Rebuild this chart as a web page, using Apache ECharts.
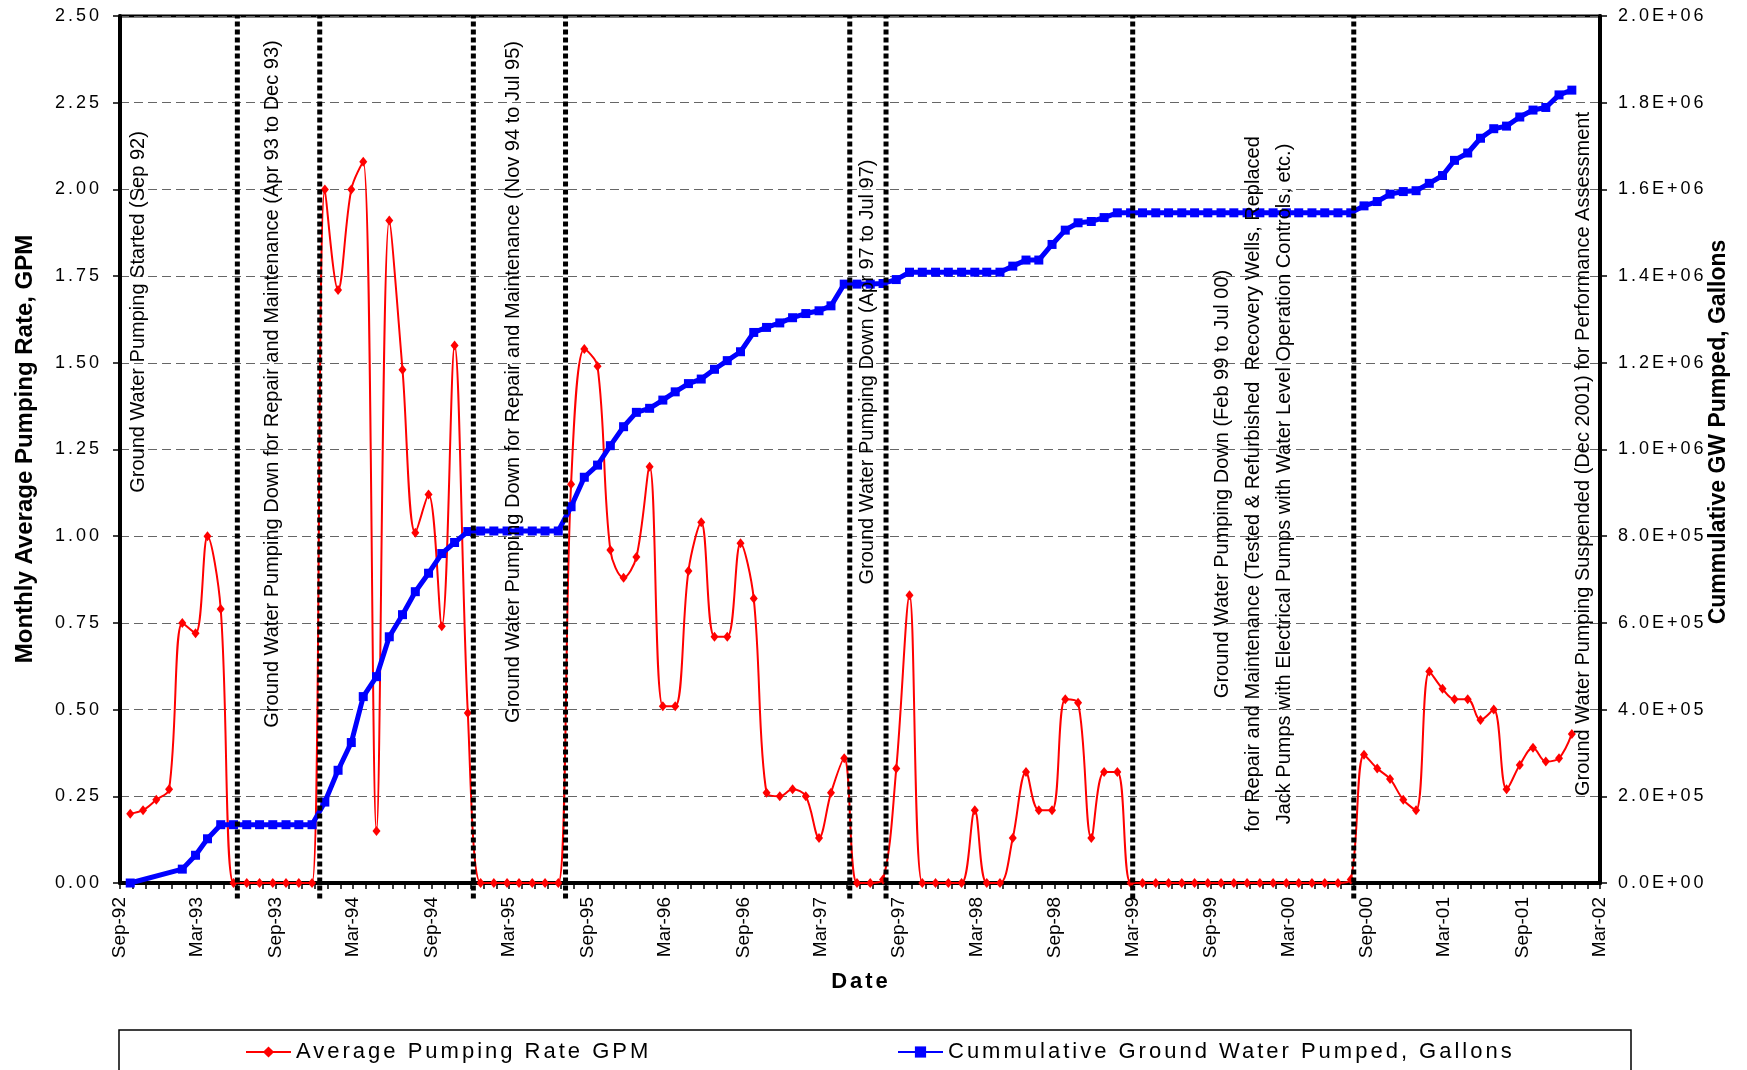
<!DOCTYPE html>
<html>
<head>
<meta charset="utf-8">
<script src="https://cdn.jsdelivr.net/npm/echarts@6.0.0/dist/echarts.min.js"></script>
<style>
  html, body { margin: 0; padding: 0; background: #ffffff; }
  #chart { width: 1747px; height: 1070px; }
</style>
</head>
<body>
<div id="chart"></div>
<script>
// Monthly readings from Sep 1992 to Dec 2001, each logged near the 25th of the month.
const firstReading = { year: 1992, month: 9, day: 25 };

// Monthly average pumping rate, GPM
const pumpingRateGPM = [
  0.20, 0.21, 0.24, 0.27, 0.75, 0.72, 1.00, 0.79,            // Sep-92 .. Apr-93
  0, 0, 0, 0, 0, 0, 0,                                       // May-93 .. Nov-93
  2.00, 1.71, 2.00, 2.08, 0.15, 1.91, 1.48, 1.01, 1.12, 0.74, 1.55, 0.49, // Dec-93 .. Nov-94
  0, 0, 0, 0, 0, 0, 0,                                       // Dec-94 .. Jun-95
  1.15, 1.54, 1.49, 0.96, 0.88, 0.94, 1.20, 0.51, 0.51, 0.90, 1.04, 0.71, // Jul-95 .. Jun-96
  0.71, 0.98, 0.82, 0.26, 0.25, 0.27, 0.25, 0.13, 0.26, 0.36,             // Jul-96 .. Apr-97
  0, 0, 0.01, 0.33, 0.83,                                    // May-97 .. Sep-97
  0, 0, 0, 0,                                                // Oct-97 .. Jan-98
  0.21, 0, 0, 0.13, 0.32, 0.21, 0.21, 0.53, 0.52, 0.13, 0.32, 0.32,       // Feb-98 .. Jan-99
  0, 0, 0, 0, 0, 0, 0, 0, 0, 0, 0, 0, 0, 0, 0, 0, 0,         // Feb-99 .. Jun-00
  0.01, 0.37, 0.33, 0.30, 0.24, 0.21, 0.61, 0.56, 0.53, 0.53, 0.47, 0.50, // Jul-00 .. Jun-01
  0.27, 0.34, 0.39, 0.35, 0.36, 0.43                         // Jul-01 .. Dec-01
];

// Cumulative ground water pumped, gallons (null = no reading that month)
const cumulativeGallons = [
  0, null, null, null, 32000, 64000, 102000, 134500,
  134500, 134500, 134500, 134500, 134500, 134500, 134500,
  186700, 260000, 324000, 430000, 476000, 568000, 619000, 672000, 714600, 760000, 785500, 810700,
  812000, 812000, 812000, 812000, 812000, 812000, 812000,
  868000, 936000, 964000, 1008800, 1052600, 1085700, 1095000, 1114000, 1133000, 1152000, 1162500, 1185000,
  1205000, 1225500, 1270000, 1281600, 1292000, 1304000, 1313600, 1320000, 1331400, 1381500,
  1381500, 1381500, 1383000, 1392000, 1409000,
  1409000, 1409000, 1409000, 1409000,
  1409000, 1409000, 1409000, 1423000, 1437000, 1437000, 1473000, 1506000, 1523000, 1526000, 1535000, 1546000,
  1546000, 1546000, 1546000, 1546000, 1546000, 1546000, 1546000, 1546000, 1546000, 1546000, 1546000, 1546000,
  1546000, 1546000, 1546000, 1546000, 1546000,
  1546000, 1562000, 1572000, 1589000, 1595000, 1597000, 1614000, 1632000, 1667000, 1684000, 1718000, 1740000,
  1746000, 1767000, 1783000, 1789000, 1818000, 1829000
];

// Operational events marked with dotted vertical lines
const eventDates = [
  '1993-06-03', '1993-12-13', '1994-12-08', '1995-07-12',
  '1997-05-08', '1997-08-01', '1999-03-02', '2000-08-01'
];

// Date axis range (labels every six months, ticks every month)
const axisStart = '1992-09-01';
const axisEnd = '2002-03-01';
const monthNames = ['Jan', 'Feb', 'Mar', 'Apr', 'May', 'Jun', 'Jul', 'Aug', 'Sep', 'Oct', 'Nov', 'Dec'];

const rateName = 'Average Pumping Rate GPM';
const cumName = 'Cummulative Ground Water Pumped, Gallons';

// Plain face for notes and dates; the "Arial" face is drawn with wider tracking
const FONT = '"Liberation Sans", sans-serif';
const WIDE = 'Arial, sans-serif';

// Wider letter tracking for tick numbers, legend entries and the date title
(function () {
  const proto = CanvasRenderingContext2D.prototype;
  if (!('letterSpacing' in proto)) return;
  const rawFill = proto.fillText;
  function draw(ctx, spacing, t, x, y, w) {
    const font = ctx.font;
    ctx.letterSpacing = spacing;
    ctx.font = font;
    const r = w === undefined ? rawFill.call(ctx, t, x, y) : rawFill.call(ctx, t, x, y, w);
    return r;
  }
  proto.fillText = function (t, x, y, w) {
    return draw(this, /Arial/.test(this.font) ? '3px' : '0px', t, x, y, w);
  };
})();

function parseDay(s) {
  const p = s.split('-').map(Number);
  return new Date(p[0], p[1] - 1, p[2]).getTime();
}
function readingTime(i) {
  return new Date(firstReading.year, firstReading.month - 1 + i, firstReading.day).getTime();
}
function monthStarts(stepMonths) {
  const out = [];
  const s = new Date(parseDay(axisStart));
  const end = parseDay(axisEnd);
  for (let k = 0; ; k += stepMonths) {
    const t = new Date(s.getFullYear(), s.getMonth() + k, 1).getTime();
    if (t > end) break;
    out.push(t);
  }
  return out;
}
function monthLabel(v) {
  const d = new Date(v);
  return monthNames[d.getMonth()] + '-' + String(d.getFullYear() % 100).padStart(2, '0');
}
function sci(v) {
  if (v === 0) return '0.0E+00';
  const e = Math.floor(Math.log10(v) + 1e-9);
  const m = v / Math.pow(10, e);
  return m.toFixed(1) + 'E+' + String(e).padStart(2, '0');
}

const rateData = pumpingRateGPM.map((v, i) => [readingTime(i), v]);
const cumData = [];
cumulativeGallons.forEach((v, i) => { if (v !== null) cumData.push([readingTime(i), v]); });

const eventSeries = eventDates.map(d => ({
  type: 'line',
  yAxisIndex: 0,
  data: [[parseDay(d), -0.045], [parseDay(d), 2.5]],
  symbol: 'none',
  clip: false,
  silent: true,
  z: 5,
  lineStyle: { color: '#000000', width: 5, type: [5, 3], cap: 'butt' }
}));

// Rotated annotation text (reads bottom to top)
const notes = [
  { x: 138, y: 312, text: 'Ground Water Pumping Started (Sep 92)' },
  { x: 272, y: 384, text: 'Ground Water Pumping Down for Repair and Maintenance (Apr 93 to Dec 93)' },
  { x: 513, y: 382, text: 'Ground Water Pumping Down for Repair and Maintenance (Nov 94 to Jul 95)' },
  { x: 867, y: 372, text: 'Ground Water Pumping Down (Apr 97 to Jul 97)' },
  { x: 1253, y: 484, text: 'Ground Water Pumping Down (Feb 99 to Jul 00)\nfor Repair and Maintenance (Tested & Refurbished  Recovery Wells, Replaced\nJack Pumps with Electrical Pumps with Water Level Operation Controls, etc.)' },
  { x: 1583, y: 454, text: 'Ground Water Pumping Suspended (Dec 2001) for Performance Assessment' }
];

function vText(x, y, text, size, weight) {
  return {
    type: 'text', x: x, y: y, rotation: Math.PI / 2, silent: true, z: 10,
    style: {
      text: text, fill: '#000000', font: weight + ' ' + size + 'px ' + FONT,
      align: 'center', verticalAlign: 'middle', textAlign: 'center', textVerticalAlign: 'middle',
      lineHeight: 31
    }
  };
}

const graphics = notes.map(n => vText(n.x, n.y, n.text, 20, 'normal'));
graphics.push(vText(25, 449, 'Monthly Average Pumping Rate, GPM', 24, 'bold'));
graphics.push(vText(1719, 432, 'Cummulative GW Pumped, Gallons', 23, 'bold'));
graphics.push({
  type: 'text', x: 861, y: 982, silent: true,
  style: { text: 'Date', fill: '#000000', font: 'bold 22px ' + WIDE,
    align: 'center', verticalAlign: 'middle', textAlign: 'center', textVerticalAlign: 'middle' }
});
graphics.push({
  type: 'rect', silent: true, z: 0,
  shape: { x: 119, y: 1030, width: 1512, height: 60 },
  style: { fill: '#ffffff', stroke: '#000000', lineWidth: 1.5 }
});

const chart = echarts.init(document.getElementById('chart'), null, { renderer: 'canvas' });

chart.setOption({
  animation: false,
  backgroundColor: '#ffffff',
  textStyle: { fontFamily: FONT, color: '#000000' },
  grid: {
    left: 120, right: 147, top: 16, bottom: 187,
    show: true, borderColor: '#000000', borderWidth: 3, backgroundColor: 'transparent'
  },
  xAxis: {
    type: 'value',
    min: parseDay(axisStart),
    max: parseDay(axisEnd),
    axisLine: { show: true, onZero: false, lineStyle: { color: '#000000', width: 4 } },
    axisTick: { show: true, inside: false, length: 6, customValues: monthStarts(1),
      lineStyle: { color: '#000000', width: 1.5 } },
    axisLabel: {
      customValues: monthStarts(6),
      rotate: 90, margin: 14, fontSize: 19, fontFamily: FONT, color: '#000000',
      formatter: monthLabel
    },
    splitLine: { show: false }
  },
  yAxis: [
    {
      type: 'value', min: 0, max: 2.5, interval: 0.25,
      axisLine: { show: true, lineStyle: { color: '#000000', width: 4 } },
      axisTick: { show: true, length: 7, lineStyle: { color: '#000000', width: 1.5 } },
      axisLabel: { fontSize: 18, fontFamily: WIDE, color: '#000000', margin: 18, formatter: v => v.toFixed(2) },
      splitLine: { show: true, lineStyle: { color: '#666666', width: 1.2, type: [9, 5] } }
    },
    {
      type: 'value', min: 0, max: 2000000, interval: 200000, position: 'right',
      axisLine: { show: true, lineStyle: { color: '#000000', width: 4 } },
      axisTick: { show: true, length: 7, lineStyle: { color: '#000000', width: 1.5 } },
      axisLabel: { fontSize: 18, fontFamily: WIDE, color: '#000000', margin: 18, formatter: sci },
      splitLine: { show: false }
    }
  ],
  legend: [
    {
      data: [rateName], left: 240, top: 1036, itemWidth: 45, itemHeight: 14,
      textStyle: { fontSize: 22, fontFamily: WIDE, color: '#000000' }, selectedMode: false
    },
    {
      data: [cumName], left: 892, top: 1036, itemWidth: 45, itemHeight: 14,
      textStyle: { fontSize: 22, fontFamily: WIDE, color: '#000000' }, selectedMode: false
    }
  ],
  graphic: graphics,
  series: [
    {
      name: rateName, type: 'line', yAxisIndex: 0, data: rateData,
      smooth: 0.35, z: 3,
      symbol: 'diamond', symbolSize: [8, 10], showSymbol: true,
      itemStyle: { color: '#ff0000' },
      lineStyle: { color: '#ff0000', width: 2 }
    },
    {
      name: cumName, type: 'line', yAxisIndex: 1, data: cumData,
      smooth: false, z: 4,
      symbol: 'rect', symbolSize: 9, showSymbol: true,
      itemStyle: { color: '#0000ff' },
      lineStyle: { color: '#0000ff', width: 5 }
    }
  ].concat(eventSeries)
});
</script>
</body>
</html>
